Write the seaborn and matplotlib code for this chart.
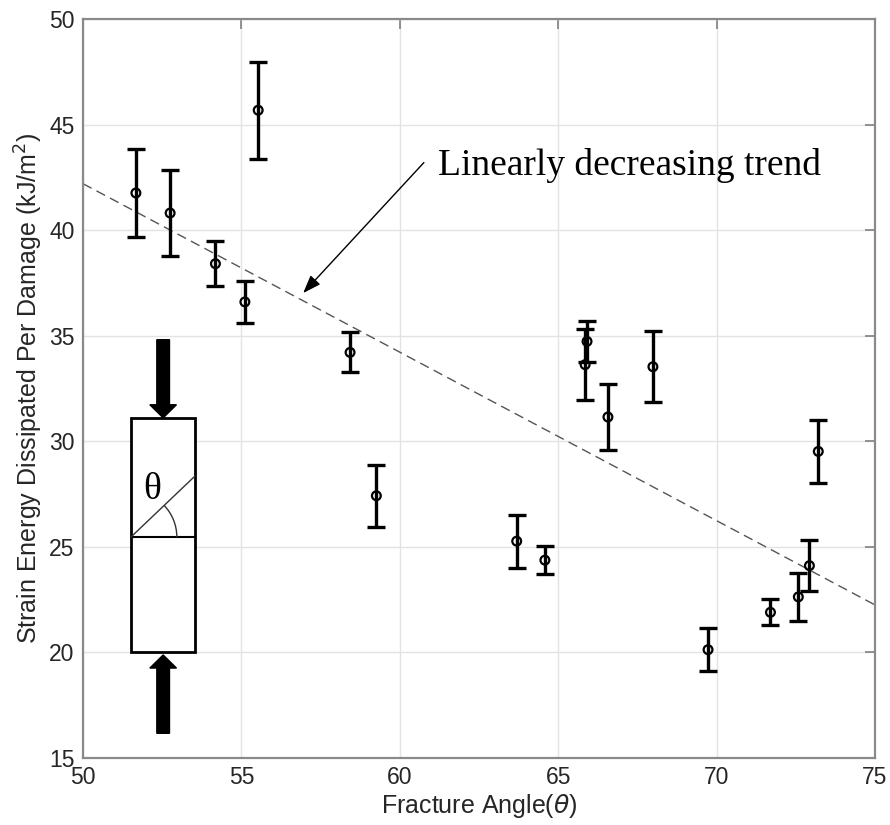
import numpy as np
import pandas as pd
import matplotlib
matplotlib.use("Agg")
import matplotlib.pyplot as plt
import seaborn as sns
from matplotlib.patches import Rectangle, Arc, FancyArrow
from matplotlib.transforms import ScaledTranslation

# ---- data ----
angle = [51.67, 52.75, 54.18, 55.11, 55.53, 58.43, 59.26, 63.69, 64.58,
         65.85, 65.91, 66.57, 67.99, 69.73, 71.70, 72.58, 72.93, 73.21]
energy = [41.76, 40.81, 38.41, 36.60, 45.68, 34.21, 27.42, 25.27, 24.37,
          33.63, 34.73, 31.15, 33.53, 20.13, 21.90, 22.63, 24.11, 29.52]
err = [2.08, 2.03, 1.06, 1.00, 2.30, 0.95, 1.46, 1.26, 0.67,
       1.67, 0.97, 1.57, 1.67, 1.02, 0.62, 1.13, 1.21, 1.49]
trend_x = [50, 75]
trend_y = [42.2, 22.25]
xticks = [50, 55, 60, 65, 70, 75]
yticks = [15, 20, 25, 30, 35, 40, 45, 50]

df = pd.DataFrame({"angle": angle, "energy": energy, "err": err})

sns.set_style("white")
plt.rcParams["font.family"] = ["Liberation Sans", "DejaVu Sans"]
plt.rcParams["mathtext.fontset"] = "dejavusans"

fig = plt.figure(figsize=(8.9, 8.25), dpi=100)
ax = fig.add_axes([83 / 890, 67 / 825, 792 / 890, 739 / 825])

# grid
ax.set_axisbelow(True)
ax.grid(True, color="#e3e3e3", linewidth=1.0)

# trend line
ax.plot(trend_x, trend_y, linestyle=(0, (7, 4)), color="#555555", linewidth=1.0, zorder=2)

# error bars + markers
ax.errorbar(df["angle"], df["energy"], yerr=df["err"], fmt="none",
            ecolor="black", elinewidth=2.4, capsize=6.5, capthick=2.4, zorder=3)
sns.scatterplot(data=df, x="angle", y="energy", ax=ax, marker="o", s=40,
                facecolor="none", edgecolor="black", linewidth=1.6, zorder=4,
                legend=False)

ax.set_xlim(50, 75)
ax.set_ylim(15, 50)
ax.set_xticks(xticks)
ax.set_yticks(yticks)
ax.tick_params(axis="both", which="both", direction="in", length=7, width=1.2,
               color="#808080", labelsize=16.5, top=True, right=True,
               labelcolor="#262626", pad=6)
for s in ax.spines.values():
    s.set_color("#8a8a8a")
    s.set_linewidth(1.6)

ax.set_xlabel(r"Fracture Angle($\theta$)", fontsize=18, color="#262626", labelpad=2)
ax.set_ylabel(r"Strain Energy Dissipated Per Damage (kJ/m$^2$)", fontsize=18,
              color="#262626", labelpad=3)

# annotation
ax.text(61.2, 42.63, "Linearly decreasing trend", fontsize=27, color="black",
        family=["Liberation Serif", "DejaVu Serif"], ha="left", va="baseline", zorder=5)
ax.annotate("", xy=(56.95, 37.02), xytext=(60.76, 43.2),
            arrowprops=dict(arrowstyle="-|>,head_length=1.1,head_width=0.4",
                            mutation_scale=10, color="black", lw=1.0,
                            shrinkA=0, shrinkB=0),
            zorder=5)

# inset specimen sketch
ax.add_patch(Rectangle((51.51, 20.0), 53.54 - 51.51, 31.1 - 20.0, fill=True,
                       facecolor="white", edgecolor="black", linewidth=2.0, zorder=5))
ax.plot([51.51, 53.54], [25.46, 25.46], color="black", linewidth=1.5, zorder=6)
ax.plot([51.51, 53.54], [25.46, 28.36], color="#333333", linewidth=1.0, zorder=6)
tr = fig.dpi_scale_trans + ScaledTranslation(51.51, 25.46, ax.transData)
ax.add_patch(Arc((0, 0), 0.92, 0.92, theta1=0, theta2=43.6, transform=tr,
                 color="#333333", linewidth=1.0, zorder=6))
ax.text(52.18, 27.7, "θ", fontsize=27, color="black",
        family=["Liberation Serif", "DejaVu Serif"],
        ha="center", va="center", zorder=6)
ax.add_patch(FancyArrow(52.53, 34.81, 0, 31.11 - 34.81, width=0.40, head_width=0.84,
                        head_length=0.62, length_includes_head=True,
                        color="black", zorder=6))
ax.add_patch(FancyArrow(52.53, 16.17, 0, 19.88 - 16.17, width=0.40, head_width=0.84,
                        head_length=0.62, length_includes_head=True,
                        color="black", zorder=6))

fig.savefig("out.png", dpi=100)
